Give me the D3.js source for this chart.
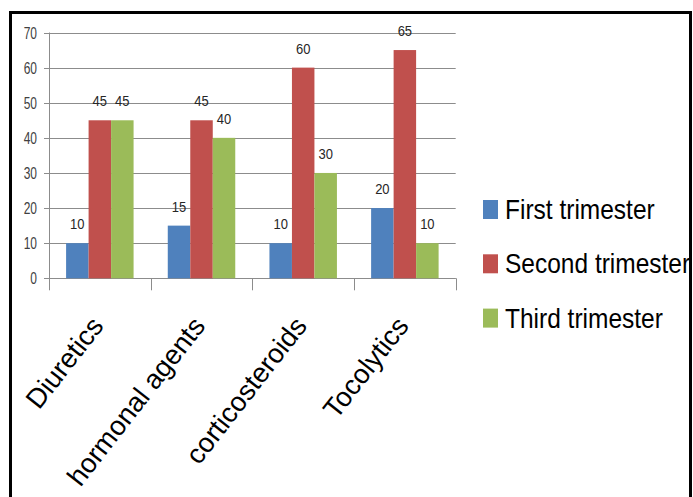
<!DOCTYPE html>
<html>
<head>
<meta charset="utf-8">
<script src="https://cdn.jsdelivr.net/npm/d3@7"></script>
<style>
  html, body { margin: 0; padding: 0; background: #fff; }
  svg { display: block; }
  text { font-family: "Liberation Sans", Arial, sans-serif; }
</style>
</head>
<body>
<div id="chart"></div>
<script>
// Drug classes on the x axis
const categories = ["Diuretics", "hormonal agents", "corticosteroids", "Tocolytics"];
// One series per trimester
const seriesNames = ["First trimester", "Second trimester", "Third trimester"];
const firstTrimester = [10, 15, 10, 20];
const secondTrimester = [45, 45, 60, 65];
const thirdTrimester = [45, 40, 30, 10];
const yTicks = [0, 10, 20, 30, 40, 50, 60, 70];
const colors = ["#4F81BD", "#C0504D", "#9BBB59"];

const seriesValues = [firstTrimester, secondTrimester, thirdTrimester];

const W = 693, H = 497;
const svg = d3.select("#chart").append("svg").attr("width", W).attr("height", H);

// plot area
const plotLeft = 49, plotRight = 455.7, plotTop = 32.5, plotBottom = 278.3;

const x0 = d3.scaleBand().domain(categories).range([plotLeft, plotRight]).padding(0);
const x1 = d3.scaleBand().domain(seriesNames).range([0, x0.bandwidth()])
  .paddingInner(0).paddingOuter(0.76);
const y = d3.scaleLinear().domain([0, 70]).range([plotBottom, plotTop]);

// horizontal gridlines
svg.append("g").selectAll("line").data(yTicks).join("line")
  .attr("x1", plotLeft - 5).attr("x2", plotRight)
  .attr("y1", d => Math.round(y(d)) + 0.5).attr("y2", d => Math.round(y(d)) + 0.5)
  .attr("stroke", "#8c8c8c").attr("stroke-width", 1);

// y tick labels (tall, condensed lettering)
svg.append("g").selectAll("text").data(yTicks).join("text")
  .attr("transform", d => `translate(37,${y(d) + 6}) scale(1,1.4)`)
  .attr("text-anchor", "end")
  .attr("font-size", 12)
  .attr("fill", "#404040")
  .text(d => d);

// y axis line
svg.append("line").attr("x1", plotLeft + 0.5).attr("x2", plotLeft + 0.5)
  .attr("y1", plotTop).attr("y2", plotBottom)
  .attr("stroke", "#8c8c8c");

// x axis line and category ticks
svg.append("line").attr("x1", plotLeft).attr("x2", plotRight)
  .attr("y1", Math.round(plotBottom) + 0.5).attr("y2", Math.round(plotBottom) + 0.5)
  .attr("stroke", "#8c8c8c");
const bounds = categories.map(c => x0(c)).concat([plotRight]);
svg.append("g").selectAll("line").data(bounds).join("line")
  .attr("x1", d => Math.round(d) + 0.5).attr("x2", d => Math.round(d) + 0.5)
  .attr("y1", plotBottom).attr("y2", plotBottom + 12)
  .attr("stroke", "#8c8c8c");

// bars
const rows = [];
categories.forEach((c, i) => {
  seriesNames.forEach((s, j) => rows.push({ c, s, j, v: seriesValues[j][i] }));
});
svg.append("g").selectAll("rect").data(rows).join("rect")
  .attr("x", d => x0(d.c) + x1(d.s))
  .attr("width", x1.bandwidth())
  .attr("y", d => y(d.v))
  .attr("height", d => y(0) - y(d.v))
  .attr("fill", d => colors[d.j]);

// value labels above the bars
svg.append("g").selectAll("text").data(rows).join("text")
  .attr("transform", d => `translate(${x0(d.c) + x1(d.s) + x1.bandwidth() / 2},${y(d.v) - 14}) scale(1,1.15)`)
  .attr("text-anchor", "middle")
  .attr("font-size", 13)
  .attr("fill", "#262626")
  .text(d => d.v);

// slanted category labels
svg.append("g").selectAll("text").data(categories).join("text")
  .attr("transform", d => `translate(${x0(d) + x0.bandwidth() / 2 + 5},${plotBottom + 48}) rotate(-52)`)
  .attr("text-anchor", "end")
  .attr("font-size", 27.5)
  .attr("fill", "#000")
  .text(d => d);

// legend
const lg = svg.append("g");
seriesNames.forEach((s, j) => {
  const by = 219 + j * 54.3;
  lg.append("rect").attr("x", 483).attr("y", by - 19).attr("width", 15).attr("height", 19)
    .attr("fill", colors[j]);
  lg.append("text")
    .attr("transform", `translate(505,${by}) scale(1,1.1)`)
    .attr("font-size", 24.5).attr("fill", "#000")
    .text(s);
});

// outer frame
svg.append("path")
  .attr("d", `M10.5,${H + 5} V12.5 H690.5 V${H + 5}`)
  .attr("fill", "none").attr("stroke", "#000").attr("stroke-width", 3);
</script>
</body>
</html>
